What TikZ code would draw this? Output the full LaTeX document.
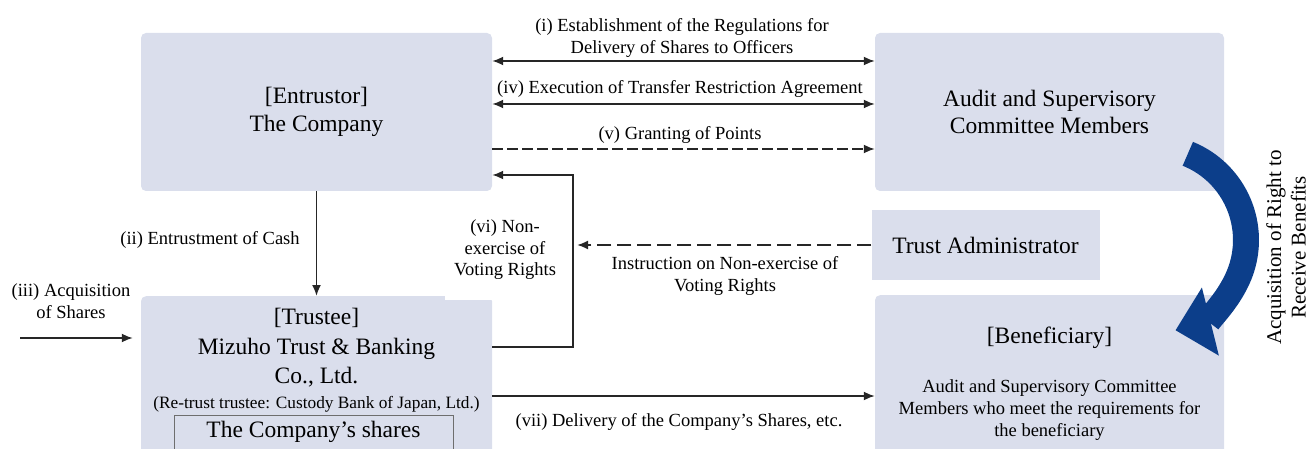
\documentclass[tikz,border=0pt]{standalone}
\usepackage{fontspec}
\setmainfont{Liberation Serif}
\usetikzlibrary{arrows.meta, positioning, calc}
\definecolor{PartyFill}{HTML}{DADEEC}
\definecolor{FlowBlue}{HTML}{0C3E8A}
\definecolor{LineDark}{HTML}{262626}
\definecolor{ShareEdge}{HTML}{6E6E6E}
\newcommand{\partyfont}{\fontsize{23.5}{27.5}\selectfont}
\newcommand{\flowfont}{\fontsize{18.5}{21.5}\selectfont}
\tikzset{
    % Shaded boxes for the parties
    party/.style={
        rectangle,
        fill=PartyFill,
        rounded corners=5pt,
        inner sep=0pt,
        align=center,
        font=\partyfont
    },
    party text/.style={
        align=center,
        inner sep=0pt,
        font=\partyfont
    },
    flow label/.style={
        align=center,
        inner sep=0pt,
        font=\flowfont
    },
    arrow style/.style={
        -{Latex[length=11pt, width=9pt]},
        line width=1.8pt,
        LineDark
    },
    biarrow style/.style={
        {Latex[length=11pt, width=9pt]}-{Latex[length=11pt, width=9pt]},
        line width=1.8pt,
        LineDark
    },
    benefit arrow/.style={
        -{Triangle[length=36pt, width=68pt]},
        line width=26pt,
        FlowBlue
    }
}

\begin{document}
\begin{tikzpicture}[x=1pt, y=-1pt]
        \clip (0,0) rectangle (1311,449);

        % Entrustor
        \node[party, minimum width=351pt, minimum height=158pt] (entrustor) at (316.5,112) {[Entrustor]\\The Company};

        % Audit and supervisory committee members
        \node[party, minimum width=349pt, minimum height=158pt] (members) at (1049.5,112) {Audit and Supervisory\\Committee Members};

        % Trust administrator
        \node[party, rounded corners=0pt, minimum width=228pt, minimum height=70pt] (admin) at (985.5,245) {Trust Administrator};

        % Trustee (runs off the bottom edge)
        \node[party, anchor=north, minimum width=351pt, minimum height=180pt] (trustee) at (316.5,296) {};
        \node[party text, font=\fontsize{23.5}{29.5}\selectfont] (trusteename) at (316.5,348) {[Trustee]\\Mizuho Trust \& Banking\\Co., Ltd.};
        \node[flow label, font=\fontsize{17.3}{20}\selectfont] (retrust) at (316.5,404) {(Re-trust trustee: Custody Bank of Japan, Ltd.)};
        \node[draw=ShareEdge, line width=1pt, anchor=north, minimum width=279pt, minimum height=60pt] (shares) at (313.5,415) {};
        \node[party text] (sharestext) at (313.5,432) {The Company’s shares};

        % Beneficiary (runs off the bottom edge)
        \node[party, anchor=north, minimum width=349pt, minimum height=180pt] (beneficiary) at (1049.5,295) {};
        \node[party text] (benefname) at (1049.5,338) {[Beneficiary]};
        \node[flow label, font=\fontsize{18.5}{22}\selectfont] (benefdesc) at (1049.5,410) {Audit and Supervisory Committee\\Members who meet the requirements for\\the beneficiary};

        % Flows between company and members
        \draw[biarrow style] ([yshift=51pt]entrustor.east) -- ([yshift=51pt]members.west);
        \node[flow label] (regslabel) at (682,38) {(i) Establishment of the Regulations for\\Delivery of Shares to Officers};
        \draw[biarrow style] ([yshift=8pt]entrustor.east) -- ([yshift=8pt]members.west);
        \node[flow label] (agreelabel) at (680,89) {(iv) Execution of Transfer Restriction Agreement};
        \draw[arrow style, dash pattern=on 11pt off 4pt] ([yshift=-37pt]entrustor.east) -- ([yshift=-37pt]members.west);
        \node[flow label] (pointslabel) at (680,135) {(v) Granting of Points};

        % Cash
        \draw[arrow style] (entrustor.south) -- (trustee.north);
        \node[flow label] (cashlabel) at (210,240) {(ii) Entrustment of Cash};

        % Share purchase
        \coordinate (acqstart) at (20,338);
        \draw[arrow style, shorten >=8pt] (acqstart) -- (acqstart -| trustee.west);
        \node[flow label] (acqlabel) at (71,301) {(iii) Acquisition\\of Shares};

        % Voting rights
        \node[flow label, fill=white, minimum width=120pt, minimum height=100pt] (votelabel) at (505,250) {(vi) Non-\\exercise of\\Voting Rights};
        \coordinate (votebend) at (573,175);
        \draw[arrow style] ([yshift=-51pt]trustee.north east) -| (votebend) -- ([yshift=-63pt]entrustor.east);
        \draw[arrow style, dash pattern=on 14pt off 6pt] (admin.west) -- ([xshift=4pt]admin.west -| votebend);
        \node[flow label] (instrlabel) at (725,276) {Instruction on Non-exercise of\\Voting Rights};

        % Delivery
        \draw[arrow style] ([yshift=-100pt]trustee.north east) -- ([yshift=-101pt]beneficiary.north west);
        \node[flow label] (deliverylabel) at (679,422) {(vii) Delivery of the Company’s Shares, etc.};

        % Right to receive benefits
        \coordinate (arcstart) at (1187.8,153.8);
        \draw[benefit arrow] (arcstart) arc[start angle=68, end angle=-76, radius=93pt];
        \node[flow label, rotate=90, font=\fontsize{21}{24.5}\selectfont] (rightlabel) at (1286,247.5) {Acquisition of Right to\\Receive Benefits};
    \end{tikzpicture}
\end{document}
